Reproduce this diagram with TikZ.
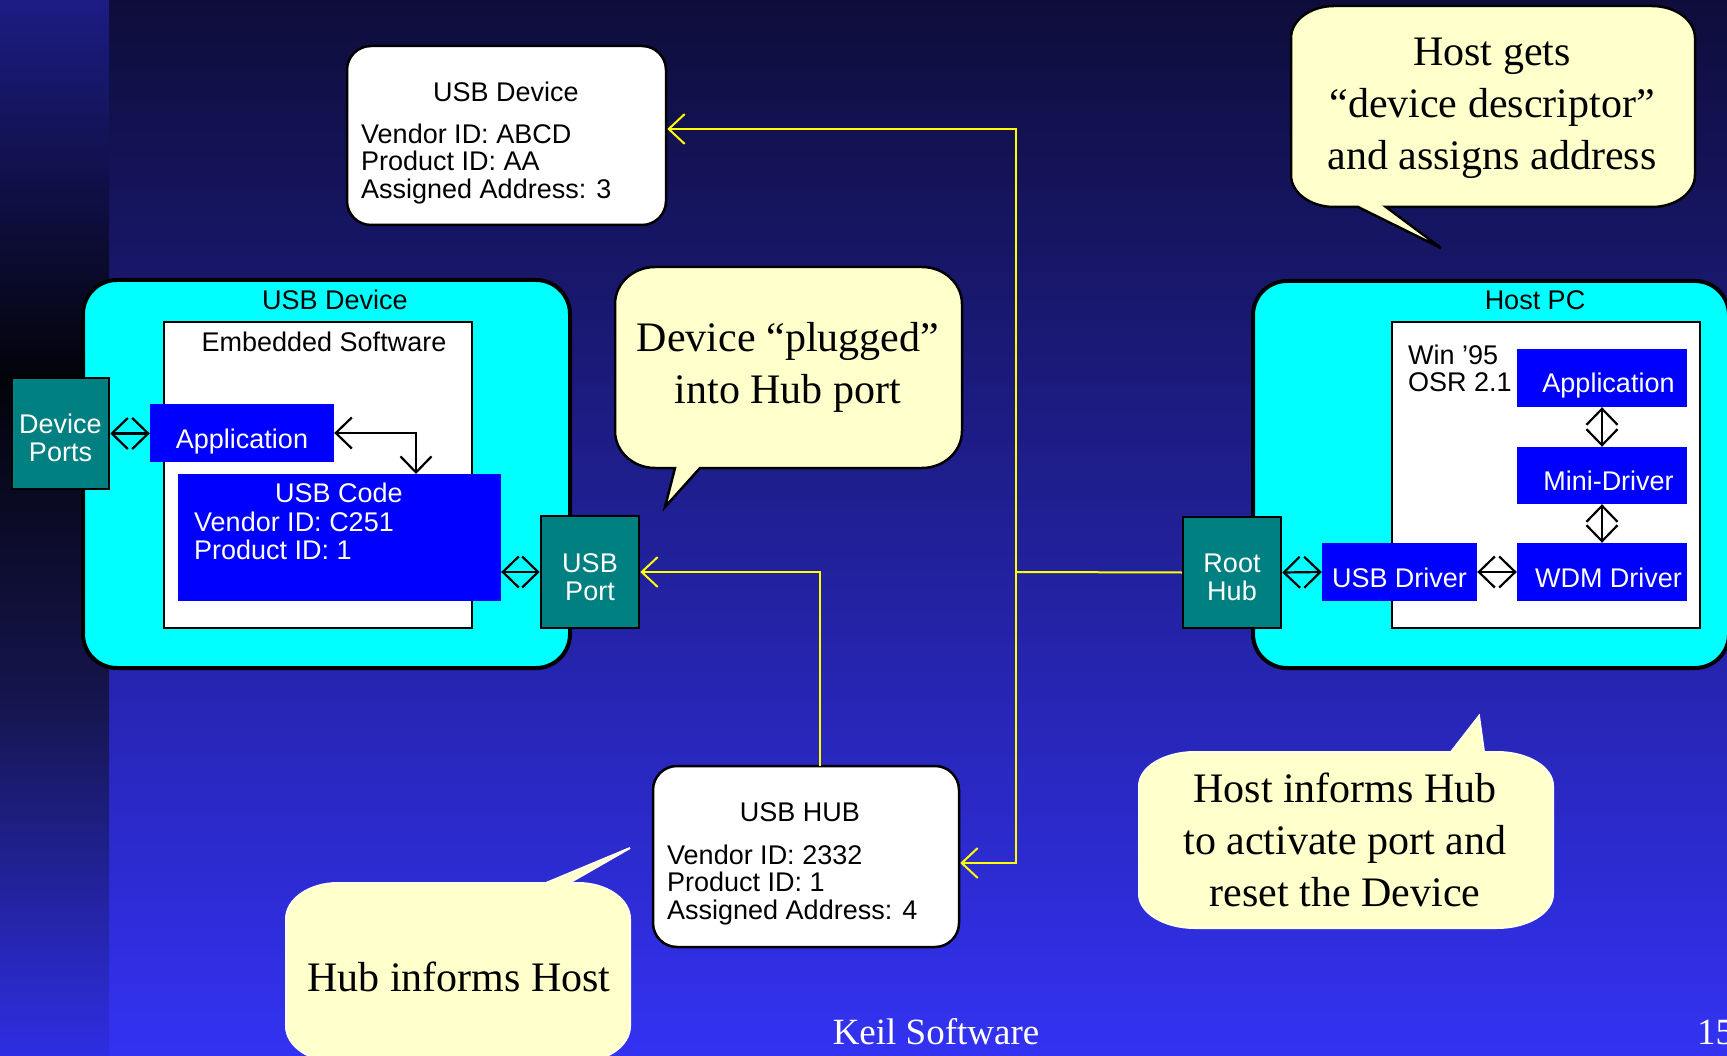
\documentclass[tikz,border=0pt]{standalone}
\usepackage{fontspec}
\setmainfont{Liberation Serif}
\newfontfamily\arialfont{Liberation Sans}
\usetikzlibrary{arrows.meta}

\definecolor{bgtop}{HTML}{0E0D3A}
\definecolor{bgbot}{HTML}{3332F2}
\definecolor{striptop}{HTML}{1C1C84}
\definecolor{stripdark}{HTML}{030309}
\definecolor{stripmid}{HTML}{15154E}
\definecolor{stripbot}{HTML}{2E2EE4}
\definecolor{boxcyan}{HTML}{00FFFF}
\definecolor{portteal}{HTML}{008080}
\definecolor{layerblue}{HTML}{0000FF}
\definecolor{notefill}{HTML}{FFFFCC}
\definecolor{noteedge}{HTML}{FFFFE8}
\definecolor{busyellow}{HTML}{FFFF00}

\newcommand{\sanstext}{\arialfont\fontsize{27}{28}\selectfont}
\newcommand{\sanslines}{\arialfont\fontsize{27}{27.5}\selectfont}
\newcommand{\notetext}{\fontsize{42}{52}\selectfont}
\newcommand{\foottext}{\fontsize{37}{40}\selectfont}

\tikzset{
  cyanbox/.style={draw=black, line width=4pt, fill=boxcyan, rounded corners=34pt, inner sep=0pt},
  softbox/.style={draw=black, line width=2.5pt, fill=white, inner sep=0pt},
  portbox/.style={draw=black, line width=2.5pt, fill=portteal, text=white, font=\sanstext, align=center, inner sep=0pt},
  layerbox/.style={fill=layerblue, text=white, font=\sanstext, inner sep=0pt, text height=30pt, text depth=0pt},
  infobox/.style={draw=black, line width=2.5pt, fill=white, rounded corners=24pt, inner sep=0pt},
  boxlabel/.style={font=\sanstext, inner sep=0pt},
  datalines/.style={font=\sanslines, align=left, inner sep=0pt, anchor=west},
  duplex/.style={draw=black, line width=2.2pt, {Straight Barb[length=16pt,width=31pt]}-{Straight Barb[length=16pt,width=31pt]}},
  bus/.style={draw=busyellow, line width=2pt},
  busarrow/.style={bus, -{Straight Barb[length=16pt,width=30pt]}},
  busboth/.style={bus, {Straight Barb[length=16pt,width=30pt]}-{Straight Barb[length=16pt,width=30pt]}},
  calloutline/.style={fill=notefill, draw=black, line width=2.5pt, line join=miter},
  calloutsoft/.style={fill=notefill, draw=noteedge, line width=2pt, line join=miter},
  bubbletext/.style={font=\notetext, align=center, inner sep=0pt},
}

\begin{document}
\begin{tikzpicture}[x=1pt, y=-1pt]
\useasboundingbox (0,0) rectangle (1727,1056);

% slide background
\shade[top color=bgtop, bottom color=bgbot] (0,0) rectangle (1727,1056);
\shade[top color=striptop, bottom color=stripdark] (0,0) rectangle (109,377.5);
\shade[top color=stripdark, bottom color=stripmid] (0,377) rectangle (109,700.5);
\shade[top color=stripmid, bottom color=stripbot] (0,700) rectangle (109,1056);

% ---------- USB device side ----------
\node[cyanbox, minimum width=487pt, minimum height=388pt] (devbox) at (326.5,474) {};
\node[boxlabel] (devlabel) at (335,300) {USB Device};
\node[softbox, minimum width=308pt, minimum height=306pt] (embbox) at (318,475) {};
\node[boxlabel] (emblabel) at (324,342) {Embedded Software};
\node[portbox, minimum width=97pt, minimum height=111pt] (ports) at (60.5,433.5) {\rule{0pt}{29pt}Device\\Ports};
\node[layerbox, minimum width=184pt, minimum height=58pt] (devapp) at (242,433) {Application};
\node[layerbox, minimum width=323pt, minimum height=127pt] (usbcode) at (339.5,537.5) {};
\node[boxlabel, text=white] (codetitle) at (339,493) {USB Code};
\node[datalines, text=white, font=\arialfont\fontsize{27}{28}\selectfont] (codedata) at (194,536) {Vendor ID: C251\\Product ID: 1};
\node[portbox, minimum width=98pt, minimum height=112pt] (usbport) at (590,572) {\rule{0pt}{29pt}USB\\Port};

% ---------- host side ----------
\node[cyanbox, minimum width=476pt, minimum height=387pt] (hostbox) at (1491,474.5) {};
\node[boxlabel] (hostlabel) at (1535,300) {Host PC};
\node[softbox, minimum width=308pt, minimum height=306pt] (hostsw) at (1546,475) {};
\node[datalines] (oslabel) at (1408,368.5) {Win ’95\\OSR 2.1};
\node[layerbox, minimum width=170pt, minimum height=58pt] (hostapp) at (1602,378) {\hspace*{13pt}Application};
\node[layerbox, minimum width=170pt, minimum height=57pt] (minidrv) at (1602,475.5) {\hspace*{13pt}Mini-Driver};
\node[layerbox, minimum width=170pt, minimum height=58pt] (wdmdrv) at (1602,572) {\hspace*{13pt}WDM Driver};
\node[layerbox, minimum width=155pt, minimum height=58pt] (usbdrv) at (1399.5,572) {USB Driver};
\node[portbox, minimum width=98pt, minimum height=111pt] (roothub) at (1232,572.5) {\rule{0pt}{29pt}Root\\Hub};

% ---------- descriptor cards ----------
\node[infobox, minimum width=319pt, minimum height=179pt] (devinfo) at (506.5,135.5) {};
\node[boxlabel] (devinfotitle) at (506,92) {USB Device};
\node[datalines] (devinfodata) at (361,164) {Vendor ID: ABCD\\Product ID: AA\\Assigned Address: 3};
\node[infobox, minimum width=306pt, minimum height=181pt] (hubinfo) at (806,856.5) {};
\node[boxlabel] (hubinfotitle) at (800,812) {USB HUB};
\node[datalines] (hubinfodata) at (667,885) {Vendor ID: 2332\\Product ID: 1\\Assigned Address: 4};

% ---------- software links ----------
\coordinate (codetap) at (416,474);
\draw[duplex] (ports.east) -- (ports.east -| devapp.west);
\draw[duplex] (devapp.east) -| (codetap);
\draw[duplex] (usbport.west -| usbcode.east) -- (usbport.west);
\draw[duplex] (roothub.east) -- (usbdrv.west);
\draw[duplex] (usbdrv.east) -- (wdmdrv.west);
\draw[duplex] (hostapp.south) -- (minidrv.north);
\draw[duplex] (minidrv.south) -- (wdmdrv.north);

% ---------- bus wiring ----------
\coordinate (bustop) at (1016,129);
\coordinate (busmid) at (1016,572);
\coordinate (busbot) at (1016,863);
\coordinate (hubtap) at (820,766);
\draw[busboth] (bustop -| devinfo.east) -- (bustop) -- (busbot) -- (busbot -| hubinfo.east);
\draw[bus] (roothub.west) -- (busmid);
\draw[busarrow] (hubtap) |- (usbport.east);

% ---------- speech bubbles ----------
\draw[calloutline] (1386,207) -- (1652,207)
  arc[start angle=90,end angle=0,x radius=43,y radius=32] -- (1695,38)
  arc[start angle=0,end angle=-90,x radius=43,y radius=32] -- (1334,6)
  arc[start angle=-90,end angle=-180,x radius=43,y radius=32] -- (1291,175)
  arc[start angle=180,end angle=90,x radius=43,y radius=32] -- (1358,207)
  -- (1441,248) -- cycle;
\node[bubbletext] (tip1) at (1492,108) {Host gets\\“device descriptor”\\and assigns address};

\draw[calloutline] (700,468) -- (922,468)
  arc[start angle=90,end angle=0,x radius=40,y radius=37] -- (962,304)
  arc[start angle=0,end angle=-90,x radius=40,y radius=37] -- (655,267)
  arc[start angle=-90,end angle=-180,x radius=40,y radius=37] -- (615,431)
  arc[start angle=180,end angle=90,x radius=40,y radius=37] -- (675,468)
  -- (665,507) -- cycle;
\node[bubbletext] (tip2) at (788,367.5) {Device “plugged”\\into Hub port};

\draw[calloutsoft] (569,883) -- (578,883)
  arc[start angle=-90,end angle=0,x radius=52,y radius=36] -- (630,1026)
  arc[start angle=0,end angle=90,x radius=52,y radius=36] -- (338,1062)
  arc[start angle=90,end angle=180,x radius=52,y radius=36] -- (286,919)
  arc[start angle=180,end angle=270,x radius=52,y radius=36] -- (546,883)
  -- (630,848) -- cycle;
\node[bubbletext] (tip3) at (459,977) {Hub informs Host};

\draw[calloutsoft] (1484,752) -- (1497,752)
  arc[start angle=-90,end angle=0,x radius=56,y radius=34] -- (1553,894)
  arc[start angle=0,end angle=90,x radius=56,y radius=34] -- (1195,928)
  arc[start angle=90,end angle=180,x radius=56,y radius=34] -- (1139,786)
  arc[start angle=180,end angle=270,x radius=56,y radius=34] -- (1451,752)
  -- (1479,716) -- cycle;
\node[bubbletext] (tip4) at (1345,840) {Host informs Hub\\to activate port and\\reset the Device};

% ---------- footer ----------
\node[font=\foottext, text=white, inner sep=0pt] (footer) at (936,1032) {Keil Software};
\node[font=\foottext, text=white, inner sep=0pt, anchor=west] (pageno) at (1697,1032) {15};
\end{tikzpicture}
\end{document}
